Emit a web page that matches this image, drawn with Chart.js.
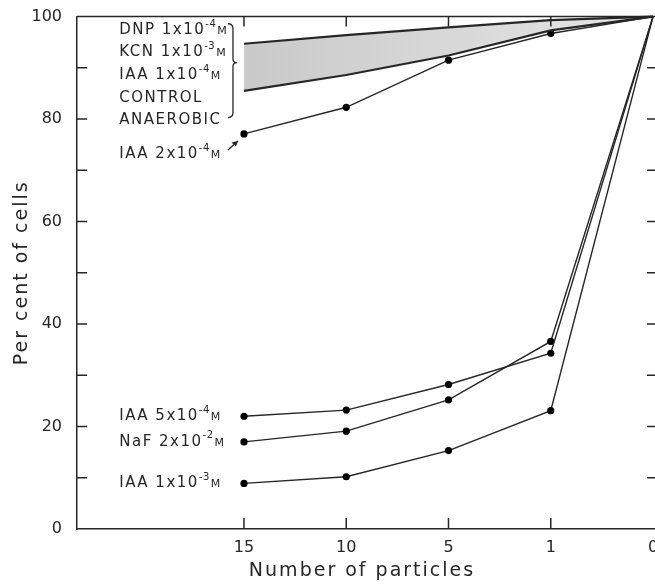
<!DOCTYPE html>
<html>
<head>
<meta charset="utf-8">
<script src="https://cdn.jsdelivr.net/npm/chart.js@4.4.0/dist/chart.umd.min.js"></script>
<style>
  html, body { margin: 0; padding: 0; background: #fff; overflow: hidden; }
  #wrap { width: 662px; height: 585px; }
</style>
</head>
<body>
<div id="wrap"><canvas id="chart"></canvas></div>
<script>
// Number of particles, plotted evenly spaced from left to right
const particles = ['15', '10', '5', '1', '0'];
const yTicks = [0, 20, 40, 60, 80, 100];

// Per cent of cells
const bandTop = [94.7, 96.4, 97.9, 99.3, 100];
const bandBottom = [85.5, 88.6, 92.4, 97.3, 100];
const iaa2e4 = [77.1, 82.3, 91.5, 96.7, 100];
const iaa5e4 = [22.0, 23.2, 28.2, 34.3, 100];
const naf2e2 = [17.0, 19.1, 25.2, 36.6, 100];
const iaa1e3 = [8.9, 10.2, 15.3, 23.1, 100];

// Labels: [text, exponent]; exponent rows end with a small "M"
const bandLabels = [['DNP 1x10', '-4'], ['KCN 1x10', '-3'], ['IAA 1x10', '-4'], ['CONTROL'], ['ANAEROBIC']];
const bandLabelY = [97.3, 93.0, 88.5, 84.1, 79.8];
const lowLabels = [['IAA 5x10', '-4'], ['NaF 2x10', '-2'], ['IAA 1x10', '-3']];

const ink = '#262626';
const fam = '"DejaVu Sans", sans-serif';
const labelX = -1.22;

function series(vals) {
    return vals.map((v, i) => ({ x: i, y: v }));
}

function lineSet(vals, extra) {
    return Object.assign({
        data: series(vals),
        borderColor: ink,
        borderWidth: 1.4,
        pointRadius: c => c.dataIndex === vals.length - 1 ? 0 : 3.6,
        pointHoverRadius: 0,
        pointBackgroundColor: '#000',
        pointBorderWidth: 0,
        tension: 0,
        fill: false,
        clip: false
    }, extra || {});
}

function drawNote(ctx, x, y, base, exp) {
    ctx.fillStyle = ink;
    ctx.textAlign = 'left';
    ctx.textBaseline = 'middle';
    ctx.letterSpacing = '1.5px';
    ctx.font = '15px ' + fam;
    ctx.fillText(base, x, y);
    if (!exp) return;
    let w = ctx.measureText(base).width;
    ctx.letterSpacing = '0.5px';
    ctx.font = '10px ' + fam;
    ctx.fillText(exp, x + w, y - 6);
    w += ctx.measureText(exp).width + 1;
    ctx.font = '11px ' + fam;
    ctx.fillText('M', x + w, y + 1);
}

// Frame, inward ticks, labels and axis titles
const decor = {
    id: 'decor',
    afterDraw(chart) {
        const ctx = chart.ctx;
        const { left, right, top, bottom } = chart.chartArea;
        const xs = chart.scales.x, ys = chart.scales.y;
        ctx.save();
        ctx.strokeStyle = ink;
        ctx.lineWidth = 1.5;
        ctx.beginPath();
        ctx.moveTo(left, top); ctx.lineTo(right, top); ctx.lineTo(right, bottom);
        particles.slice(0, -1).forEach((p, i) => {
            const px = xs.getPixelForValue(i);
            ctx.moveTo(px, top); ctx.lineTo(px, top + 10);
            ctx.moveTo(px, bottom); ctx.lineTo(px, bottom - 11);
        });
        for (let v = 10; v < 100; v += 10) {
            const py = ys.getPixelForValue(v);
            ctx.moveTo(left, py); ctx.lineTo(left + 10, py);
            ctx.moveTo(right, py); ctx.lineTo(right - 10, py);
        }
        ctx.stroke();

        const lx = xs.getPixelForValue(labelX);
        bandLabels.forEach((l, i) => drawNote(ctx, lx, ys.getPixelForValue(bandLabelY[i]), l[0], l[1]));
        drawNote(ctx, lx, ys.getPixelForValue(73.2), 'IAA 2x10', '-4');
        [iaa5e4, naf2e2, iaa1e3].forEach((s, i) => drawNote(ctx, lx, ys.getPixelForValue(s[0]), lowLabels[i][0], lowLabels[i][1]));

        // brace grouping the unaffected treatments
        const bx = xs.getPixelForValue(0) - 16;
        const bt = ys.getPixelForValue(98.6), bb = ys.getPixelForValue(80.3), bm = ys.getPixelForValue(91.0);
        ctx.lineWidth = 1.3;
        ctx.beginPath();
        ctx.moveTo(bx, bt);
        ctx.quadraticCurveTo(bx + 5, bt, bx + 5, bt + 5);
        ctx.lineTo(bx + 5, bm - 4);
        ctx.quadraticCurveTo(bx + 5, bm, bx + 9, bm);
        ctx.quadraticCurveTo(bx + 5, bm, bx + 5, bm + 4);
        ctx.lineTo(bx + 5, bb - 5);
        ctx.quadraticCurveTo(bx + 5, bb, bx, bb);
        ctx.stroke();

        // arrow to the IAA 2x10-4 series
        const mx = xs.getPixelForValue(0), my = ys.getPixelForValue(iaa2e4[0]);
        const tx = mx - 6, ty = my + 7;
        ctx.beginPath();
        ctx.moveTo(mx - 16, my + 16); ctx.lineTo(tx, ty);
        ctx.stroke();
        ctx.fillStyle = ink;
        ctx.beginPath();
        ctx.moveTo(tx, ty); ctx.lineTo(tx - 6.5, ty + 1.5); ctx.lineTo(tx - 2, ty + 5.5);
        ctx.closePath();
        ctx.fill();

        // axis titles
        ctx.fillStyle = ink;
        ctx.font = '19px ' + fam;
        ctx.letterSpacing = '2px';
        ctx.textAlign = 'center';
        ctx.textBaseline = 'middle';
        ctx.fillText('Number of particles', (left + right) / 2 - 5, 571);
        ctx.translate(22, (top + bottom) / 2);
        ctx.rotate(-Math.PI / 2);
        ctx.fillText('Per cent of cells', 0, 0);
        ctx.restore();
    }
};

new Chart(document.getElementById('chart'), {
    type: 'line',
    data: {
        datasets: [
            lineSet(bandTop, {
                borderWidth: 2.2,
                pointRadius: 0,
                fill: '+1',
                backgroundColor: c => {
                    const a = c.chart.chartArea;
                    if (!a) return '#d0d0d0';
                    const g = c.chart.ctx.createLinearGradient(a.left, 0, a.right, 0);
                    g.addColorStop(0, '#bebebe');
                    g.addColorStop(1, '#e6e6e6');
                    return g;
                }
            }),
            lineSet(bandBottom, { borderWidth: 2.2, pointRadius: 0 }),
            lineSet(iaa2e4),
            lineSet(iaa5e4),
            lineSet(naf2e2),
            lineSet(iaa1e3)
        ]
    },
    options: {
        responsive: true,
        maintainAspectRatio: false,
        animation: false,
        layout: { padding: { top: 12, right: 5, left: 0, bottom: 0 } },
        plugins: {
            legend: { display: false },
            tooltip: { enabled: false },
            filler: { drawTime: 'beforeDatasetsDraw' }
        },
        scales: {
            x: {
                type: 'linear',
                min: -1.633,
                max: 4.039,
                afterBuildTicks: s => { s.ticks = particles.map((p, i) => ({ value: i })); },
                afterFit: s => { s.height = 56; },
                ticks: {
                    callback: v => particles[v],
                    color: ink,
                    font: { family: fam, size: 16 },
                    padding: 1,
                    maxRotation: 0,
                    autoSkip: false
                },
                grid: { display: false },
                border: { color: ink, width: 1.5 }
            },
            y: {
                min: 0,
                max: 100,
                afterBuildTicks: s => { s.ticks = yTicks.map(v => ({ value: v })); },
                afterFit: s => { s.width = 77; },
                ticks: {
                    color: ink,
                    font: { family: fam, size: 16 },
                    padding: 7
                },
                grid: { display: false },
                border: { color: ink, width: 1.5 }
            }
        }
    },
    plugins: [decor]
});
</script>
</body>
</html>
